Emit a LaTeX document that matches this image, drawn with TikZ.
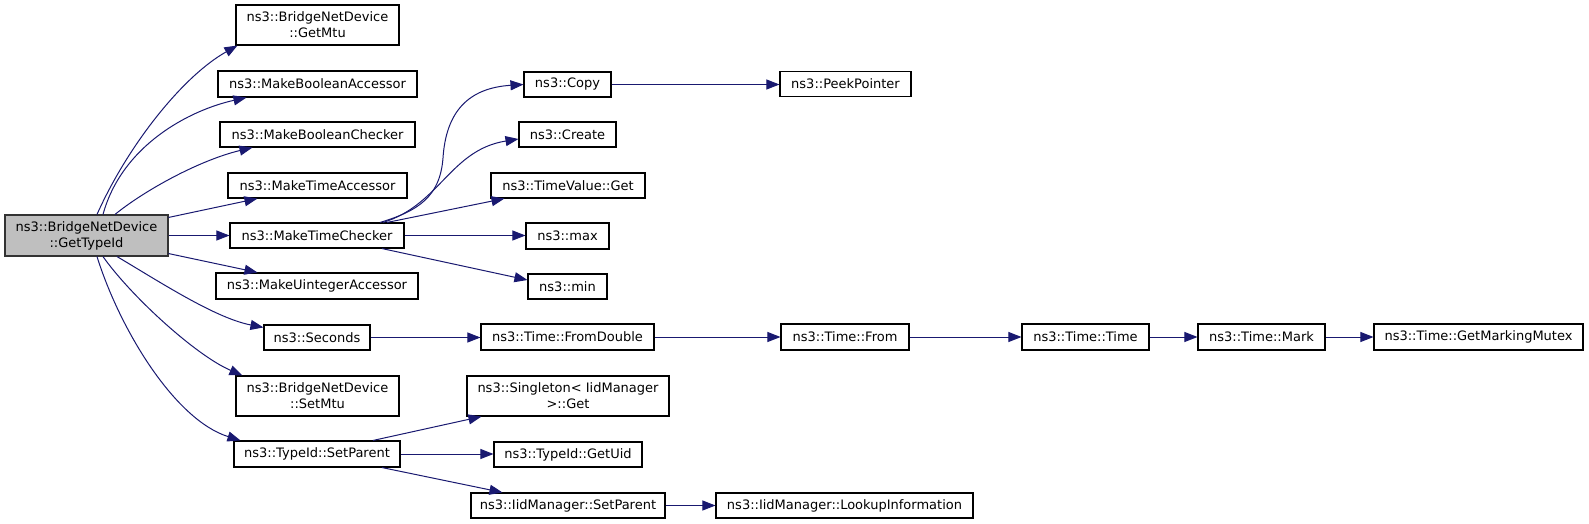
\documentclass[tikz,border=0pt]{standalone}
\usepackage{fontspec}
\setmainfont{DejaVu Sans}
\usetikzlibrary{arrows.meta}
\definecolor{edgeblue}{HTML}{191970}
\definecolor{nodegray}{HTML}{BFBFBF}
\begin{document}
\begin{tikzpicture}[x=1pt,y=-1pt,
  box/.style={draw=black,line width=1.1pt,fill=white,rectangle,inner sep=0pt,align=center,
    font=\fontsize{13pt}{16pt}\selectfont},
  edge/.style={draw=edgeblue,line width=1pt,-{Triangle[length=13pt,width=10pt]}}]
\useasboundingbox (0,0) rectangle (1589,524);

% nodes
\node[box,fill=nodegray,draw=black!80,minimum width=163pt,minimum height=41pt] (gti) at (86.5,235.5) {ns3::BridgeNetDevice\\::GetTypeId};
\node[box,minimum width=163pt,minimum height=40pt] (gmtu) at (317.5,25) {ns3::BridgeNetDevice\\::GetMtu};
\node[box,minimum width=199pt,minimum height=26pt] (mba) at (317.5,84) {ns3::MakeBooleanAccessor};
\node[box,minimum width=195pt,minimum height=25pt] (mbc) at (317.5,134.5) {ns3::MakeBooleanChecker};
\node[box,minimum width=179pt,minimum height=25pt] (mta) at (317.5,185.5) {ns3::MakeTimeAccessor};
\node[box,minimum width=174pt,minimum height=25pt] (mtc) at (317,235.5) {ns3::MakeTimeChecker};
\node[box,minimum width=202pt,minimum height=26pt] (mua) at (317,286) {ns3::MakeUintegerAccessor};
\node[box,minimum width=106pt,minimum height=25pt] (sec) at (317,337.5) {ns3::Seconds};
\node[box,minimum width=163pt,minimum height=40pt] (smtu) at (317.5,396) {ns3::BridgeNetDevice\\::SetMtu};
\node[box,minimum width=166pt,minimum height=26pt] (tsp) at (317,454) {ns3::TypeId::SetParent};
\node[box,minimum width=87pt,minimum height=25pt] (copy) at (567.5,84.5) {ns3::Copy};
\node[box,minimum width=97pt,minimum height=25pt] (create) at (567.5,134.5) {ns3::Create};
\node[box,minimum width=154pt,minimum height=25pt] (tvg) at (568,185.5) {ns3::TimeValue::Get};
\node[box,minimum width=83pt,minimum height=26pt] (max) at (567.5,236) {ns3::max};
\node[box,minimum width=79pt,minimum height=25pt] (min) at (567.5,286.5) {ns3::min};
\node[box,minimum width=131pt,minimum height=25pt] (peek) at (845.5,84) {ns3::PeekPointer};
\node[box,minimum width=173pt,minimum height=26pt] (fd) at (567.5,337) {ns3::Time::FromDouble};
\node[box,minimum width=128pt,minimum height=26pt] (tfrom) at (845,337) {ns3::Time::From};
\node[box,minimum width=127pt,minimum height=26pt] (ttime) at (1085.5,337) {ns3::Time::Time};
\node[box,minimum width=127pt,minimum height=26pt] (tmark) at (1261.5,337) {ns3::Time::Mark};
\node[box,minimum width=209pt,minimum height=26pt] (gmm) at (1478.5,337) {ns3::Time::GetMarkingMutex};
\node[box,minimum width=202pt,minimum height=40pt] (sing) at (568,396) {ns3::Singleton< IidManager\\ >::Get};
\node[box,minimum width=148pt,minimum height=25pt] (guid) at (568,454.5) {ns3::TypeId::GetUid};
\node[box,minimum width=194pt,minimum height=25pt] (isp) at (568,505.5) {ns3::IidManager::SetParent};
\node[box,minimum width=257pt,minimum height=25pt] (lookup) at (844.5,505.5) {ns3::IidManager::LookupInformation};

% edges from GetTypeId
\draw[edge] ([xshift=10.5pt]gti.north) .. controls (128,145) and (183,76) .. ([xshift=2pt]gmtu.south west);
\draw[edge] ([xshift=16.5pt]gti.north) .. controls (122,145) and (190,110) .. ([xshift=29pt]mba.south west);
\draw[edge] ([xshift=28.5pt]gti.north) .. controls (145,190) and (200,160) .. ([xshift=33pt]mbc.south west);
\draw[edge] ([yshift=-3pt]gti.north east) -- ([xshift=30pt]mta.south west);
\draw[edge] (gti.east) -- (mtc.west);
\draw[edge] ([yshift=3pt]gti.south east) -- ([xshift=42pt]mua.north west);
\draw[edge] ([xshift=30.5pt]gti.south) .. controls (160,282) and (215,318) .. ([yshift=-3pt]sec.north west);
\draw[edge] ([xshift=16.5pt]gti.south) .. controls (130,295) and (195,355) .. ([xshift=7pt]smtu.north west);
\draw[edge] ([xshift=10.5pt]gti.south) .. controls (120,330) and (175,420) .. ([xshift=7pt]tsp.north west);

% edges from MakeTimeChecker
\draw[edge] ([xshift=63pt]mtc.north) .. controls (418,211) and (440,197) .. (443,158)
  .. controls (446,112) and (468,88) .. (copy.west);
\draw[edge] ([xshift=66pt]mtc.north) .. controls (440,205) and (450,150) .. ([yshift=-4.5pt]create.west);
\draw[edge] ([xshift=70pt]mtc.north) -- ([xshift=14pt]tvg.south west);
\draw[edge] (mtc.east) -- (mtc.east -| max.west);
\draw[edge] ([xshift=65pt]mtc.south) -- ([yshift=6.5pt]min.west);

% chains
\draw[edge] (copy.east) -- (copy.east -| peek.west);
\draw[edge] (sec.east) -- (sec.east -| fd.west);
\draw[edge] (fd.east) -- (tfrom.west);
\draw[edge] (tfrom.east) -- (ttime.west);
\draw[edge] (ttime.east) -- (tmark.west);
\draw[edge] (tmark.east) -- (gmm.west);

% edges from TypeId::SetParent
\draw[edge] ([xshift=56pt]tsp.north) -- ([xshift=15pt]sing.south west);
\draw[edge] (tsp.east) -- (tsp.east -| guid.west);
\draw[edge] ([xshift=65pt]tsp.south) -- ([xshift=32pt]isp.north west);
\draw[edge] (isp.east) -- (lookup.west);
\end{tikzpicture}
\end{document}
